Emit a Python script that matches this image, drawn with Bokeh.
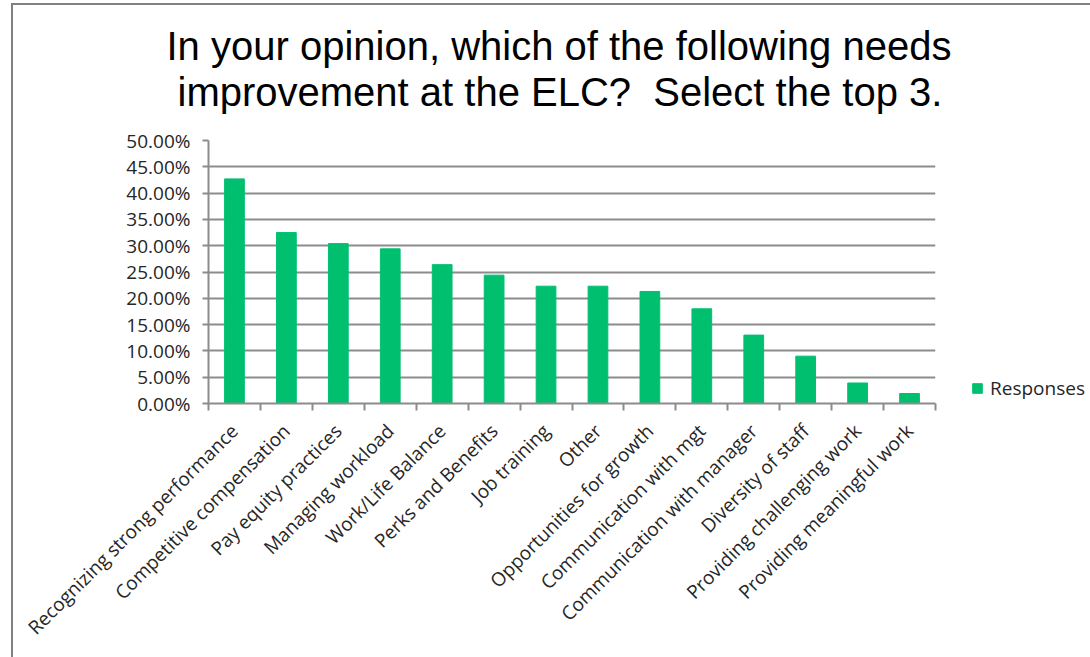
from bokeh.plotting import figure
from bokeh.models import (Range1d, FixedTicker, NumeralTickFormatter, Title, Legend,
                          LegendItem, ColumnDataSource)
from bokeh.embed import file_html
from bokeh.resources import INLINE
import math

categories = [
    "Recognizing strong performance",
    "Competitive compensation",
    "Pay equity practices",
    "Managing workload",
    "Work/Life Balance",
    "Perks and Benefits",
    "Job training",
    "Other",
    "Opportunities for growth",
    "Communication with mgt",
    "Communication with manager",
    "Diversity of staff",
    "Providing challenging work",
    "Providing meaningful work",
]
responses = [0.427, 0.325, 0.304, 0.294, 0.264, 0.244, 0.223, 0.223, 0.213, 0.180, 0.130, 0.090, 0.039, 0.019]
y_ticks = [0.0, 0.05, 0.10, 0.15, 0.20, 0.25, 0.30, 0.35, 0.40, 0.45, 0.50]
series_name = "Responses"
title_lines = ["In your opinion, which of the following needs",
               "improvement at the ELC?\u00a0 Select the top 3."]

n = len(categories)
centers = [i + 0.5 for i in range(n)]
edges = [float(i) for i in range(n + 1)]

src = ColumnDataSource(dict(x=centers, top=responses, cat=categories))

# canvas starts at (13, 5) because of the chart border drawn with CSS
p = figure(frame_width=727, frame_height=263, output_backend="svg", toolbar_location=None,
           x_range=Range1d(0, n), y_range=Range1d(0, 0.5),
           min_border_left=195, min_border_right=155, min_border_top=135, min_border_bottom=254)
p.styles = {"border-top": "2px solid #808080", "border-left": "2px solid #808080",
            "margin-left": "11px", "margin-top": "3px"}
p.outline_line_color = None
p.background_fill_color = "white"
p.border_fill_color = "white"

GREEN = "#00C070"
GRID = "#8c8c8c"
TXT = "#262626"
LABEL_FONT = "Open Sans"

r = p.vbar(x="x", top="top", width=0.38, source=src, fill_color=GREEN, line_color=GREEN)

# y axis
p.yaxis.ticker = FixedTicker(ticks=y_ticks)
p.yaxis.formatter = NumeralTickFormatter(format="0.00%")
p.yaxis.major_label_text_font = LABEL_FONT
p.yaxis.major_label_text_font_size = "19px"
p.yaxis.major_label_text_color = TXT
p.yaxis.axis_line_color = GRID
p.yaxis.axis_line_width = 2
p.yaxis.major_tick_line_color = GRID
p.yaxis.major_tick_line_width = 2
p.yaxis.major_tick_out = 6
p.yaxis.major_tick_in = 0
p.yaxis.minor_tick_line_color = None
p.yaxis.major_label_standoff = 12

# x axis
p.xaxis.ticker = FixedTicker(ticks=centers, minor_ticks=edges)
p.xaxis.major_label_overrides = {c: lab for c, lab in zip(centers, categories)}
p.xaxis.major_label_orientation = math.pi / 4
p.xaxis.major_label_text_font = LABEL_FONT
p.xaxis.major_label_text_font_size = "19px"
p.xaxis.major_label_text_color = TXT
p.xaxis.axis_line_color = GRID
p.xaxis.axis_line_width = 2
p.xaxis.major_tick_line_color = None
p.xaxis.major_tick_out = 0
p.xaxis.major_tick_in = 0
p.xaxis.minor_tick_line_color = GRID
p.xaxis.minor_tick_line_width = 2
p.xaxis.minor_tick_out = 7
p.xaxis.minor_tick_in = 0
p.xaxis.major_label_standoff = 17

p.xgrid.grid_line_color = None
p.ygrid.ticker = FixedTicker(ticks=y_ticks)
p.ygrid.grid_line_color = GRID
p.ygrid.grid_line_width = 2

# title: spacer nearest the frame, then line 2, then line 1
spacer = Title(text="\u00a0", text_font="Liberation Sans", text_font_size="16px", standoff=8)
t2 = Title(text=title_lines[1], align="left", text_font="Liberation Sans",
           text_font_size="40px", text_font_style="normal", text_color="black",
           standoff=0, offset=-31)
t1 = Title(text=title_lines[0], align="left", text_font="Liberation Sans",
           text_font_size="40px", text_font_style="normal", text_color="black",
           standoff=0, offset=-42)
p.add_layout(spacer, "above")
p.add_layout(t2, "above")
p.add_layout(t1, "above")

legend = Legend(items=[LegendItem(label=series_name, renderers=[r])],
                location=(36, 2), padding=0, margin=0, spacing=0,
                glyph_width=12, glyph_height=12, label_height=12, label_standoff=7,
                label_text_font=LABEL_FONT, label_text_font_size="19px",
                label_text_color=TXT, border_line_color=None,
                background_fill_alpha=0)
p.add_layout(legend, "right")

open("out.html", "w").write(file_html(p, INLINE))
